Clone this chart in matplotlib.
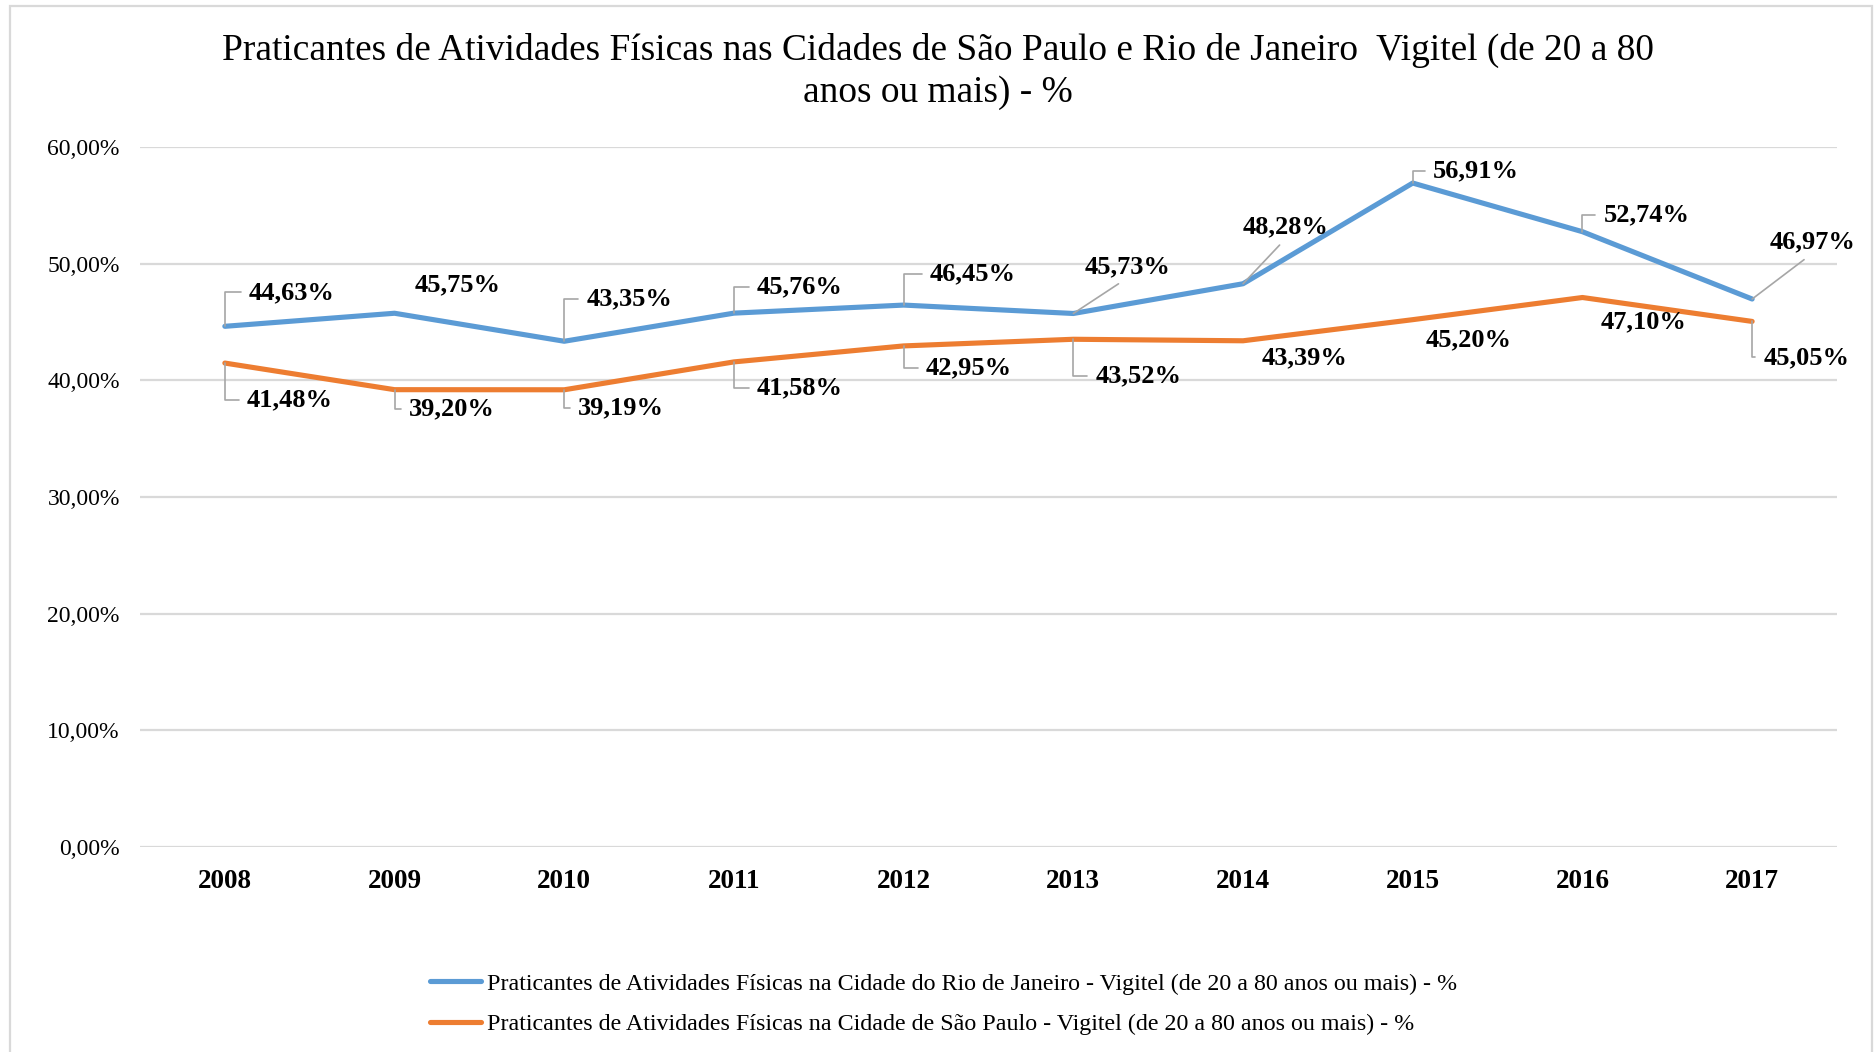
import matplotlib
matplotlib.use('Agg')
import matplotlib.pyplot as plt
from matplotlib.patches import Rectangle

# ---------------- data ----------------
years = ['2008', '2009', '2010', '2011', '2012', '2013', '2014', '2015', '2016', '2017']
rio = [44.63, 45.75, 43.35, 45.76, 46.45, 45.73, 48.28, 56.91, 52.74, 46.97]
sp = [41.48, 39.20, 39.19, 41.58, 42.95, 43.52, 43.39, 45.20, 47.10, 45.05]
yticks = [0, 10, 20, 30, 40, 50, 60]
title_lines = ["Praticantes de Atividades Físicas nas Cidades de São Paulo e Rio de Janeiro  Vigitel (de 20 a 80",
               "anos ou mais) - %"]
rio_name = "Praticantes de Atividades Físicas na Cidade do Rio de Janeiro - Vigitel (de 20 a 80 anos ou mais) - %"
sp_name = "Praticantes de Atividades Físicas na Cidade de São Paulo - Vigitel (de 20 a 80 anos ou mais) - %"

# ---------------- label placement (style) ----------------
rio_offsets = [(67, 34), (63, 28), (65, 42), (66, 26), (69, 31), (54, 47), (43, 57), (63, 12), (64, 17), (60, 57)]
rio_leaders = ['elbow', 'none', 'elbow', 'elbow', 'elbow', 'diag', 'diag', 'elbow', 'elbow', 'diag']
sp_offsets = [(65, -37), (57, -19), (57, -18), (66, -26), (65, -22), (65, -37), (62, -17), (56, -20), (61, -24), (54, -36)]
sp_leaders = ['elbow', 'elbow', 'elbow', 'elbow', 'elbow', 'elbow', 'none', 'none', 'none', 'elbow']

BLUE = '#5B9BD5'
ORANGE = '#ED7D31'
GRID = '#D9D9D9'
LEADER = '#A6A6A6'
FONT = 'Liberation Serif'

plt.rcParams['font.family'] = [FONT, 'DejaVu Serif']

fig = plt.figure(figsize=(18.76, 10.52), dpi=100)
ax = fig.add_axes([140 / 1876, 1 - 847 / 1052, (1837 - 140) / 1876, (847 - 147) / 1052])

x = list(range(len(years)))
ax.plot(x, rio, color=BLUE, lw=3.7, solid_capstyle='round', solid_joinstyle='round', zorder=3, label=rio_name)
ax.plot(x, sp, color=ORANGE, lw=3.7, solid_capstyle='round', solid_joinstyle='round', zorder=3, label=sp_name)

ax.set_xlim(-0.5, len(years) - 0.5)
ax.set_ylim(0, 60)
ax.set_yticks(yticks)
ax.set_yticklabels([f"{v:.2f}%".replace('.', ',') for v in yticks], fontsize=17)
ax.set_xticks(x)
ax.set_xticklabels(years, fontsize=19.5, fontweight='bold')
ax.tick_params(axis='both', length=0)
ax.tick_params(axis='y', pad=14.5)
ax.tick_params(axis='x', pad=15.5)
for s in ax.spines.values():
    s.set_visible(False)
ax.grid(axis='y', color=GRID, lw=1.6, zorder=0)
ax.set_axisbelow(True)


def add_labels(vals, offsets, leaders):
    for i, (v, off, ld) in enumerate(zip(vals, offsets, leaders)):
        txt = f"{v:.2f}%".replace('.', ',')
        kw = dict(xy=(i, v), xytext=off, textcoords='offset pixels', ha='center', va='center',
                  fontsize=19, fontweight='bold', zorder=5)
        if ld == 'elbow':
            kw['arrowprops'] = dict(arrowstyle='-', color=LEADER, lw=1.2,
                                    connectionstyle='angle,angleA=180,angleB=90,rad=0',
                                    relpos=(0, 0.5), shrinkA=3.8, shrinkB=0)
        elif ld == 'diag':
            kw['arrowprops'] = dict(arrowstyle='-', color=LEADER, lw=1.2,
                                    relpos=(0.5, 0), shrinkA=4, shrinkB=0)
        ax.annotate(txt, **kw)


add_labels(rio, rio_offsets, rio_leaders)
add_labels(sp, sp_offsets, sp_leaders)

fig.text(0.5, 1 - 60 / 1052, title_lines[0], ha='center', va='baseline', fontsize=26.9)
fig.text(0.5, 1 - 102 / 1052, title_lines[1], ha='center', va='baseline', fontsize=26.9)

leg = fig.legend(loc='center left', bbox_to_anchor=(430 / 1876, 1 - 1004 / 1052), frameon=False,
                 fontsize=17.3, handlelength=2.12, handletextpad=0.25, labelspacing=0.78,
                 borderpad=0, borderaxespad=0)

fig.patches.append(Rectangle((10 / 1876, -0.02), (1872 - 10) / 1876, 1.02 - 6 / 1052,
                             transform=fig.transFigure, fill=False, edgecolor=GRID, lw=1.6))

fig.savefig('out.png', dpi=100, facecolor='white')
